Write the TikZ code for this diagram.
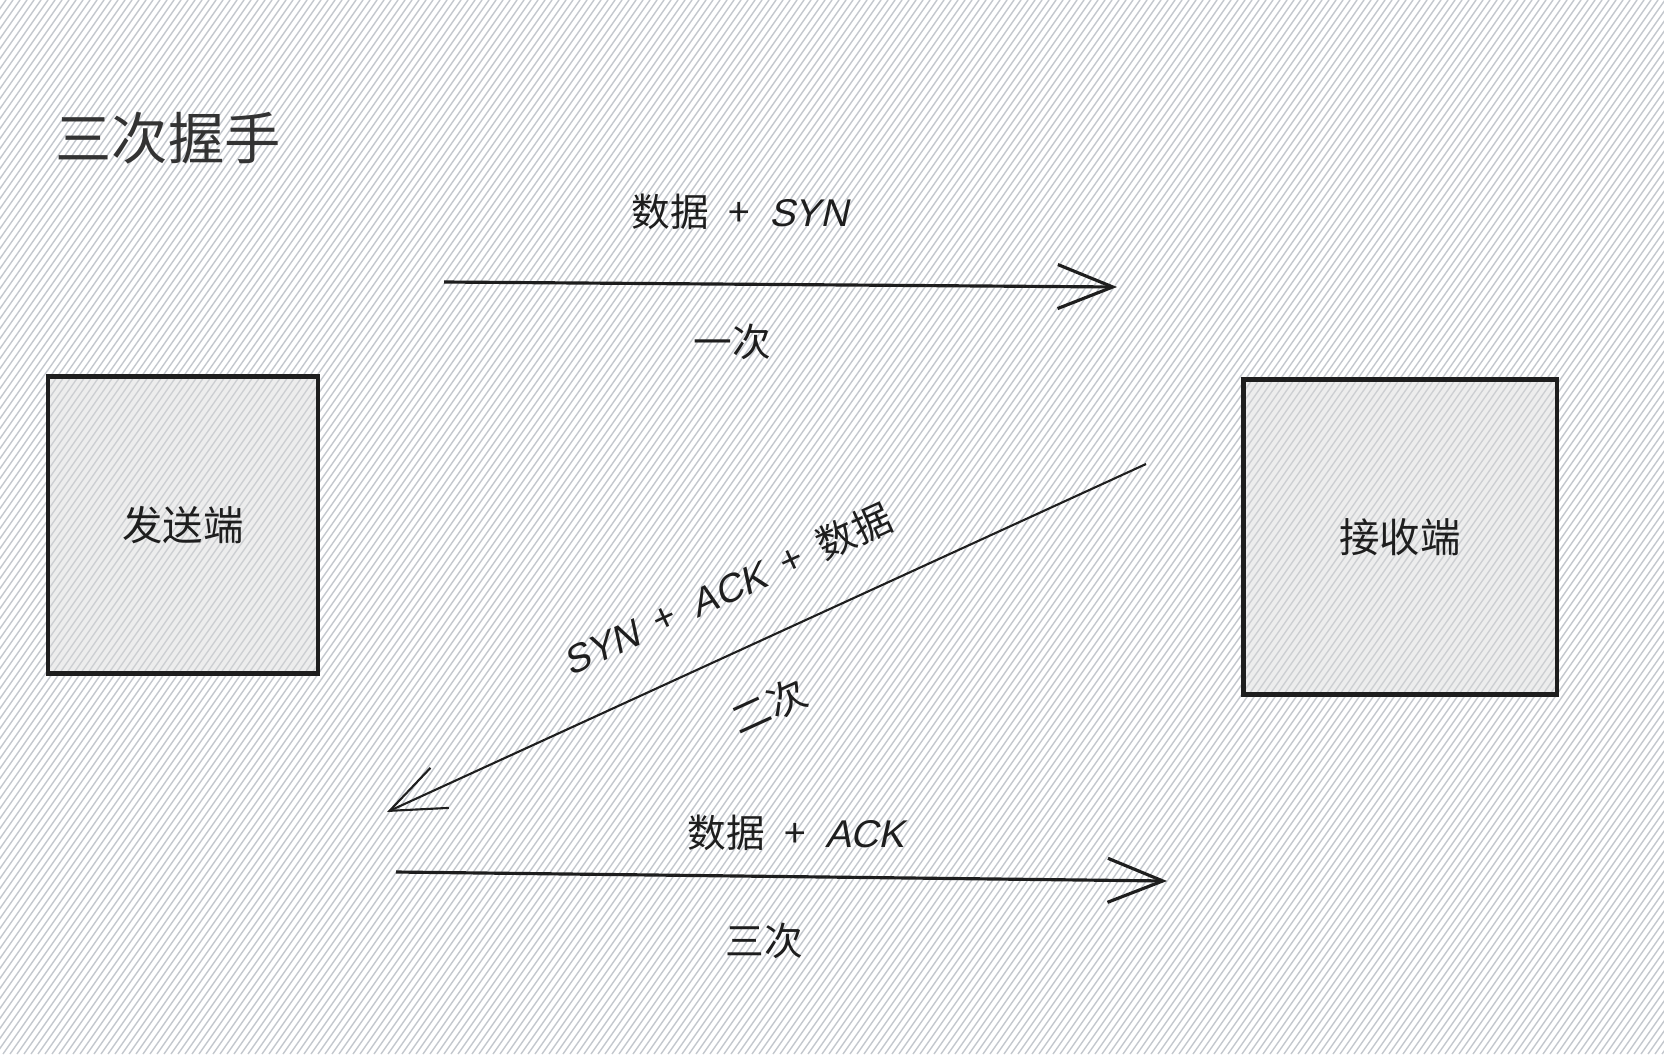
\documentclass[tikz,border=0pt]{standalone}
\usepackage{fontspec}
\setmainfont{Noto Sans CJK SC}
\newfontfamily\handfont[FakeSlant=0.22]{Liberation Sans}
\usetikzlibrary{arrows.meta}
\definecolor{hatchgray}{HTML}{C4C8CE}
\definecolor{inkblack}{HTML}{1E1E1E}
\definecolor{titlegray}{HTML}{333333}

\begin{document}
\begin{tikzpicture}[x=0.01cm, y=-0.01cm,
        hatch/.style={draw=hatchgray, line width=0.4pt},
        endbox/.style={draw=inkblack, line width=1.2pt, fill=gray!30, fill opacity=0.45,
            text opacity=1, font=\fontsize{11.5}{13}\selectfont, text=inkblack},
        msg/.style={font=\fontsize{11}{13}\selectfont, text=inkblack, inner sep=1pt},
        shake/.style={draw=inkblack, line width=#1,
            -{Straight Barb[length=0.55cm, width=0.44cm, line width=#1]}}]
    % background
    \useasboundingbox (0,0) rectangle (1664,1054);
    \fill[white] (0,0) rectangle (1664,1054);
    \begin{scope}
        \clip (0,0) rectangle (1664,1054);
        \foreach \x in {-760,-753,...,1670}
            \draw[hatch] (\x,1054) -- ++(738,-1054);
    \end{scope}
    % title
    \node[font=\fontsize{16}{18}\selectfont, text=titlegray] (title) at (168,138) {三次握手};
    % ends
    \node[endbox, minimum width=2.7cm, minimum height=2.97cm] (sender) at (183,525) {发送端};
    \node[endbox, minimum width=3.13cm, minimum height=3.15cm] (receiver) at (1400,537) {接收端};
    % handshake arrows
    \coordinate (a1s) at (444,282);
    \coordinate (a1e) at (1117,287);
    \coordinate (a2s) at (1146,464);
    \coordinate (a2e) at (387,812);
    \coordinate (a3s) at (396,872);
    \coordinate (a3e) at (1167,881);
    \draw[shake=0.9pt] (a1s) -- (a1e);
    \draw[shake=0.6pt] (a2s) -- (a2e);
    \draw[shake=0.9pt] (a3s) -- (a3e);
    % labels
    \node[msg] (syn) at (740,212) {数据\enspace{}+\enspace{}{\handfont SYN}};
    \node[msg] (first) at (732,342) {一次};
    \node[msg, rotate=24.6] (synack) at (727,589) {{\handfont SYN}\enspace{}+\enspace{}{\handfont ACK}\enspace{}+\enspace{}数据};
    \node[msg, rotate=24.6] (second) at (769,706) {二次};
    \node[msg] (ack) at (796,833) {数据\enspace{}+\enspace{}{\handfont ACK}};
    \node[msg] (third) at (764,941) {三次};
\end{tikzpicture}
\end{document}
